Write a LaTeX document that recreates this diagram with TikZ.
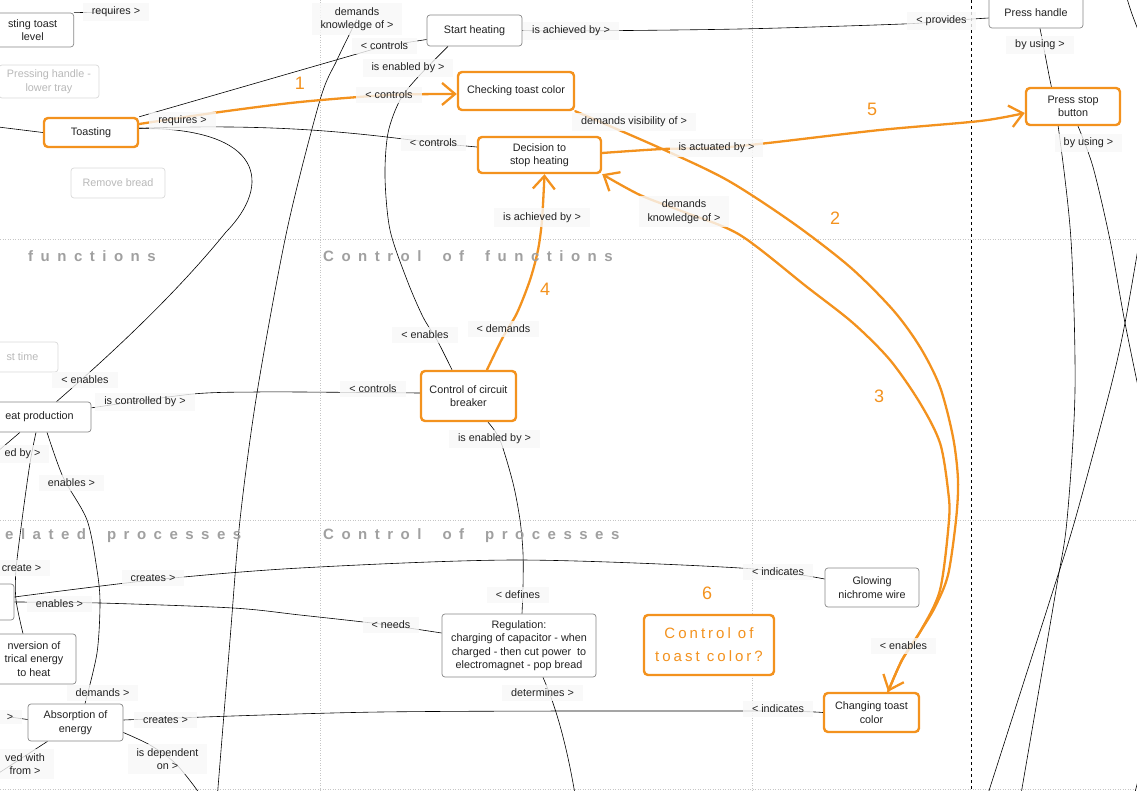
\documentclass[tikz,border=0pt]{standalone}
\usepackage{fontspec}
\setmainfont{Liberation Sans}
\newfontfamily\bandfont{Liberation Sans}[LetterSpace=50, WordSpace=1.8]
\newfontfamily\notefont{Liberation Sans}[LetterSpace=20]
\usetikzlibrary{positioning,calc,arrows.meta,backgrounds}

\definecolor{hilite}{RGB}{243,146,30}
\definecolor{frame}{RGB}{135,135,135}
\definecolor{ink}{RGB}{34,34,34}
\definecolor{faded}{RGB}{185,185,185}
\definecolor{bandgray}{RGB}{160,160,160}
\definecolor{lblbg}{RGB}{248,248,248}

\begin{document}
\begin{tikzpicture}[x=1pt, y=-1pt]
	\useasboundingbox (0,0) rectangle (1137,791);
	\clip (0,0) rectangle (1137,791);
	\begin{scope}
		\tikzstyle{every node}=[align=center, text=ink, font=\fontsize{10.8}{13.5}\selectfont]
		\tikzstyle{concept}=[draw=frame, line width=0.7pt, rounded corners=3pt, fill=white, minimum width=95pt, minimum height=31pt, inner sep=2pt]
		\tikzstyle{hot}=[concept, draw=hilite, line width=2.4pt, rounded corners=4pt]
		\tikzstyle{ghost}=[concept, draw=faded!55, text=faded]
		\tikzstyle{lbl}=[fill=lblbg, fill opacity=0.8, text opacity=1, inner xsep=9pt, inner ysep=4pt]
		\tikzstyle{link}=[black, line width=0.6pt]
		\tikzstyle{hilink}=[hilite, line width=2.3pt, line cap=round, -{Straight Barb[length=13pt, width=22pt]}]
		\tikzstyle{num}=[text=hilite, font=\fontsize{18}{20}\selectfont]
		\tikzstyle{band}=[text=bandgray, font=\bandfont\bfseries\fontsize{15}{18}\selectfont, anchor=west, inner sep=0pt]

		% column and row bands
		\node[band] (hf)  at (28,256)  {functions};
		\node[band] (hcf) at (323,256) {Control of functions};
		\node[band] (hrp) at (5,536)   {elated processes};
		\node[band] (hcp) at (323,536) {Control of processes};

		% concepts
		\node[concept, anchor=east, minimum width=82pt, minimum height=34pt] (adj) at (74,30) {sting toast\\level};
		\node[ghost, minimum width=100pt, minimum height=33pt] (press) at (49,81.5) {Pressing handle -\\lower tray};
		\node[hot, minimum width=94pt, minimum height=29pt] (toast) at (91,132.5) {Toasting};
		\node[ghost, minimum width=94pt, minimum height=30pt] (remove) at (118,183) {Remove bread};
		\node[concept] (start) at (474.5,30.5) {Start heating};
		\node[hot, minimum width=116pt, minimum height=38pt] (check) at (516,91) {Checking toast color};
		\node[hot, minimum width=123pt, minimum height=36pt] (dec) at (539.5,155) {Decision to\\stop heating};
		\node[concept, minimum width=94pt] (phandle) at (1036,12.5) {Press handle};
		\node[hot, minimum width=94pt, minimum height=37pt] (pstop) at (1073,106.5) {Press stop\\button};
		\node[ghost, minimum width=71pt, minimum height=30pt] (stime) at (22.5,357) {st time};
		\node[concept, minimum width=103pt, minimum height=30pt] (heat) at (39.5,417) {eat production};
		\node[hot, minimum width=95pt, minimum height=50pt] (cb) at (468.5,396) {Control of circuit\\breaker};
		\node[concept, minimum width=60pt, minimum height=36pt] (side) at (-16,602) {};
		\node[concept, minimum width=84pt, minimum height=50pt] (conv) at (34,659) {nversion of\\trical energy\\to heat};
		\node[concept, minimum width=95pt, minimum height=37pt] (absorb) at (75.5,722.5) {Absorption of\\energy};
		\node[concept, minimum width=154pt, minimum height=63pt] (reg) at (519,645.5) {Regulation:\\charging of capacitor - when\\charged - then cut power\ \ to\\electromagnet - pop bread};
		\node[hot, text=hilite, font=\notefont\fontsize{15}{23}\selectfont, minimum width=130pt, minimum height=60pt] (tcolor) at (709,645) {Control of\\toast color?};
		\node[concept, minimum width=94pt, minimum height=39pt] (glow) at (872,587.5) {Glowing\\nichrome wire};
		\node[hot, minimum width=95pt, minimum height=39pt] (chg) at (871.5,712.5) {Changing toast\\color};

		% linking phrases
		\node[lbl] (req1) at (116,12)     {requires >};
		\node[lbl] (dk1)  at (357,19)     {demands\\knowledge of >};
		\node[lbl] (ctl1) at (384.5,46)   {< controls};
		\node[lbl] (enb2) at (408,68)     {is enabled by >};
		\node[lbl] (ctl2) at (389,95)     {< controls};
		\node[lbl] (ach1) at (571,31)     {is achieved by >};
		\node[lbl] (prov) at (941.5,21)   {< provides};
		\node[lbl] (use1) at (1040,45)    {by using >};
		\node[lbl] (req2) at (182.5,121)  {requires >};
		\node[lbl] (ctl3) at (433.5,143)  {< controls};
		\node[lbl] (dvis) at (634,122)    {demands visibility of >};
		\node[lbl] (act)  at (716.5,148)  {is actuated by >};
		\node[lbl] (use2) at (1088.5,143) {by using >};
		\node[lbl] (ach2) at (542,217.5)  {is achieved by >};
		\node[lbl] (dk2)  at (684,211.5)  {demands\\knowledge of >};
		\node[lbl] (enb3) at (425,335)    {< enables};
		\node[lbl] (dem1) at (503.5,329)  {< demands};
		\node[lbl] (enb1) at (85,380)     {< enables};
		\node[lbl] (ictl) at (145,402)    {is controlled by >};
		\node[lbl] (ctl4) at (373,389)    {< controls};
		\node[lbl] (enb5) at (494.5,439)  {is enabled by >};
		\node[lbl] (edby) at (22.5,454)   {ed by >};
		\node[lbl] (enb7) at (71.5,483)   {enables >};
		\node[lbl] (cre0) at (21.5,568)   {create >};
		\node[lbl] (cre1) at (153,578)    {creates >};
		\node[lbl] (enb6) at (59.5,604)   {enables >};
		\node[lbl] (ind1) at (778,572)    {< indicates};
		\node[lbl] (def)  at (518,595)    {< defines};
		\node[lbl] (need) at (391,625)    {< needs};
		\node[lbl] (enb4) at (903.5,646)  {< enables};
		\node[lbl] (dem2) at (102.5,693)  {demands >};
		\node[lbl] (det)  at (542.5,693)  {determines >};
		\node[lbl] (cre2) at (165.5,720)  {creates >};
		\node[lbl] (ind2) at (778,709)    {< indicates};
		\node[lbl] (gt)   at (10,717)     {>};
		\node[lbl] (dep)  at (167.5,759)  {is dependent\\on >};
		\node[lbl] (vw)   at (25,764)     {ved with\\from >};

		\node[num] (n1) at (300,83)  {1};
		\node[num] (n2) at (835,218) {2};
		\node[num] (n3) at (879,396) {3};
		\node[num] (n4) at (545,289) {4};
		\node[num] (n5) at (872,109) {5};
		\node[num] (n6) at (707,593) {6};

		% loose ends leaving the sheet
		\coordinate (offl1) at (-10,126);
		\coordinate (offl2) at (-10,458);
		\coordinate (offl3) at (-15,782);
		\coordinate (offb1) at (205,805);
		\coordinate (offb2) at (576,800);
		\coordinate (offb3) at (986,800);
		\coordinate (offb4) at (1020,800);
		\coordinate (offb5) at (1133,800);
		\coordinate (offb6) at (217,800);
		\coordinate (offr1) at (1142,225);
		\coordinate (offr2) at (1145,420);
		\coordinate (offr3) at (1142,765);
		\coordinate (offt1) at (1126,-5);
		\coordinate (offr4) at (1142,40);

		\begin{scope}[on background layer]
			\clip (0,0) rectangle (1137,791);
			\draw[bandgray!60, line width=0.6pt, dash pattern=on 1pt off 1.5pt] (0,239) -- (1137,239) (0,520) -- (1137,520) (0,789.5) -- (1137,789.5) (320,0) -- (320,791) (752.5,0) -- (752.5,791);
			\draw[black, line width=0.7pt, dash pattern=on 3pt off 3pt] (971.5,0) -- (971.5,791);

			\draw[link] (adj.north east) -- (req1.center);
			\draw[link] (toast.west) -- (offl1);
			\draw[link] (toast.north east) -- (ctl1.center) -- ([yshift=-9pt]start.west);
			\draw[link] (toast.5) .. controls (260,124) and (340,130) .. (ctl3.center) -- ([yshift=8pt]dec.west);
			\draw[link] (toast.5) .. controls (265,128) and (272,185) .. (226,232) .. controls (175,295) and (110,355) .. ([xshift=17pt]heat.north);
			\draw[link] plot[smooth] coordinates {(dk1.center) (337,60) (320,100) (287,230) (257,393) (240,520) (230,640) (offb6)};
			\draw[link] plot[smooth] coordinates {([xshift=-26.5pt]start.south) (418,77) (400,100) (388,133) (385,177) (390,230) (407,280) (423,317) (437,340) ([xshift=-16.5pt]cb.north)};
			\draw[link] plot[smooth] coordinates {(start.east) (ach1.center) (740,29) (903,24) (prov.center) ([yshift=-5.5pt]phandle.west)};
			\draw[link] plot[smooth] coordinates {([xshift=4pt]phandle.south) (1048,70) (1058,125) (1071,240) (1075,390) (1067,520) (1056,590) (offb4)};
			\draw[link] plot[smooth] coordinates {([xshift=5pt]pstop.south) (1093,167) (1110,240) (1125,323) (offr2)};
			\draw[link] plot[smooth] coordinates {(offr1) (1125,323) (1110,390) (1075,520) (1050,600) (offb3)};
			\draw[link] (offt1) .. controls (1131,12) .. (offr4);
			\draw[link] (offb5) -- (offr3);

			\draw[link] plot[smooth] coordinates {([yshift=3pt]cb.west) (300,392) (257,392) (193,394) (heat.10)};
			\draw[link] plot[smooth] coordinates {([xshift=19.5pt]cb.south) (500,440) (513,483) (520,520) (523,553) (523,587) ([xshift=3pt]reg.north)};
			\draw[link] ([xshift=-19.5pt]heat.south) -- (offl2);
			\draw[link] plot[smooth] coordinates {([xshift=-3.5pt]heat.south) (30,463) (22,520) (16,570) (16,600) ([xshift=-11pt]conv.north)};
			\draw[link] plot[smooth] coordinates {([xshift=7.5pt]heat.south) (63,477) (87,520) (97,570) (100,603) (97,653) ([xshift=9.5pt]absorb.north)};

			\draw[link] plot[smooth] coordinates {([yshift=5pt]side.east) (153,580) (300,568) (517,560) (740,568) ([yshift=8.5pt]glow.west)};
			\draw[link] plot[smooth] coordinates {(side.east) (100,603) (233,608) (300,615) (380,624) ([yshift=12.5pt]reg.west)};
			\draw[link] plot[smooth] coordinates {([yshift=2.5pt]absorb.east) (380,712) (750,711) (chg.west)};
			\draw[link] plot[smooth] coordinates {([yshift=-10pt]absorb.east) (150,745) (175,763) (197,790) (offb1)};
			\draw[link] (gt.center) -- ([yshift=3pt]absorb.west);
			\draw[link] ([xshift=-28pt]absorb.south) -- (offl3);
			\draw[link] ([xshift=24pt]reg.south) .. controls (555,705) and (566,740) .. (offb2);

			\draw[hilink] plot[smooth] coordinates {(toast.10) (220,112) (300,102) (ctl2.center) ([yshift=-3pt]check.west)};
			\draw[hilink] plot[smooth] coordinates {(check.south east) (660,148) (727,180) (793,223) (850,267) (893,310) (920,347) (940,387) (953,437) (958,480) (956,520) (948,575) (935,607) (920,632) (902,660) ([xshift=16.5pt]chg.north)};
			\draw[hilink] plot[smooth] coordinates {([xshift=16.5pt]chg.north) (902,660) (920,632) (940,590) (949,520) (948,490) (940,443) (920,403) (890,360) (853,323) (807,287) (740,235) (684,212) (640,195) (dec.south east)};
			\draw[hilink] plot[smooth] coordinates {([xshift=18.5pt]cb.north) (503,337) (517,313) (530,280) (538,250) (542,220) ([xshift=5pt]dec.south)};
			\draw[hilink] plot[smooth] coordinates {([yshift=2pt]dec.east) (663,149) (act.center) (768,143) (880,130) (980,121) ([yshift=-6.5pt]pstop.west)};
		\end{scope}
	\end{scope}
\end{tikzpicture}
\end{document}
